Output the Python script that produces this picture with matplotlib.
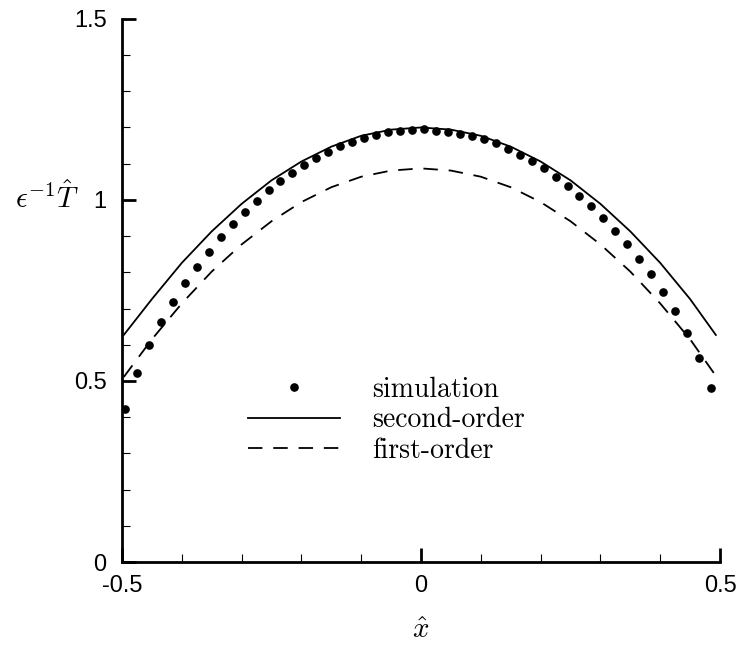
""" Plot the scaled temperature profile across the channel: simulation
points against the first- and second-order asymptotic solutions.
"""

from matplotlib import pyplot as plt
from matplotlib.ticker import MultipleLocator

# simulation points
sim_x = [-0.495, -0.475, -0.455, -0.435, -0.415, -0.395, -0.375, -0.355, -0.335, -0.315,
         -0.295, -0.275, -0.255, -0.235, -0.215, -0.195, -0.175, -0.155, -0.135, -0.115,
         -0.095, -0.075, -0.055, -0.035, -0.015, 0.005, 0.025, 0.045, 0.065, 0.085,
         0.105, 0.125, 0.145, 0.165, 0.185, 0.205, 0.225, 0.245, 0.265, 0.285,
         0.305, 0.325, 0.345, 0.365, 0.385, 0.405, 0.425, 0.445, 0.465, 0.485]
sim_T = [0.422, 0.523, 0.599, 0.663, 0.718, 0.770, 0.816, 0.857, 0.898, 0.933,
         0.966, 0.998, 1.026, 1.052, 1.075, 1.097, 1.116, 1.133, 1.148, 1.160,
         1.171, 1.180, 1.187, 1.191, 1.194, 1.195, 1.191, 1.188, 1.182, 1.176,
         1.168, 1.156, 1.140, 1.125, 1.108, 1.087, 1.064, 1.039, 1.012, 0.983,
         0.950, 0.915, 0.878, 0.837, 0.794, 0.745, 0.693, 0.633, 0.564, 0.480]

# asymptotic curves
curve_x = [-0.497, -0.45, -0.40, -0.35, -0.30, -0.25, -0.20, -0.15, -0.10, -0.05, 0.0,
           0.05, 0.10, 0.15, 0.20, 0.25, 0.30, 0.35, 0.40, 0.45, 0.493]
second_order_T = [0.627, 0.726, 0.826, 0.913, 0.989, 1.054, 1.106, 1.147, 1.177, 1.194, 1.200,
                  1.194, 1.177, 1.147, 1.106, 1.054, 0.989, 0.913, 0.826, 0.726, 0.627]
first_order_T = [0.511, 0.615, 0.714, 0.802, 0.877, 0.941, 0.994, 1.035, 1.064, 1.081, 1.087,
                 1.081, 1.064, 1.035, 0.994, 0.941, 0.877, 0.802, 0.714, 0.615, 0.514]

x_ticks = [-0.5, 0.0, 0.5]
x_tick_labels = ["-0.5", "0", "0.5"]
y_ticks = [0.0, 0.5, 1.0, 1.5]
y_tick_labels = ["0", "0.5", "1", "1.5"]


def plot_temperature_profile():
    """ Draw the three series and save the figure to out.png.
    """
    plt.rcParams['mathtext.fontset'] = 'cm'
    plt.rcParams['axes.unicode_minus'] = False

    fig = plt.figure(figsize=(7.42, 6.49), dpi=100)
    ax = fig.add_axes([0.1644, 0.134, 0.806, 0.837])

    ax.plot(curve_x, second_order_T, c='black', lw=1.3, label="second-order")
    ax.plot(curve_x, first_order_T, c='black', lw=1.3, ls=(0, (8, 6)), label="first-order")
    ax.plot(sim_x, sim_T, 'o', c='black', ms=5.2, label="simulation")

    ax.set_xlim(-0.5, 0.5)
    ax.set_ylim(0.0, 1.5)

    for side in ['top', 'right']:
        ax.spines[side].set_visible(False)
    for side in ['left', 'bottom']:
        ax.spines[side].set_linewidth(2.0)

    ax.set_xticks(x_ticks)
    ax.set_xticklabels(x_tick_labels)
    ax.set_yticks(y_ticks)
    ax.set_yticklabels(y_tick_labels)
    ax.xaxis.set_minor_locator(MultipleLocator(0.1))
    ax.yaxis.set_minor_locator(MultipleLocator(0.1))
    ax.tick_params(which='major', direction='in', length=10, width=2.0,
                   labelsize=17, pad=9)
    ax.tick_params(which='minor', direction='in', length=6, width=0.8)
    ax.tick_params(axis='y', which='major', pad=11)
    for lbl in ax.get_xticklabels() + ax.get_yticklabels():
        lbl.set_family('Liberation Sans')

    ax.set_xlabel(r"$\hat{x}$", fontsize=21, labelpad=14)
    ax.set_ylabel(r"$\epsilon^{-1}\hat{T}$", fontsize=21, rotation=0)
    ax.yaxis.set_label_coords(-0.125, 0.64)

    handles, labels = ax.get_legend_handles_labels()
    order = [2, 0, 1]
    ax.legend([handles[i] for i in order], [labels[i] for i in order],
              loc='center', bbox_to_anchor=(0.442, 0.261), frameon=False,
              prop={'family': 'cmr10', 'size': 20}, handlelength=3.3,
              handletextpad=1.15, labelspacing=0.15)

    fig.savefig("out.png", dpi=100)


plot_temperature_profile()
